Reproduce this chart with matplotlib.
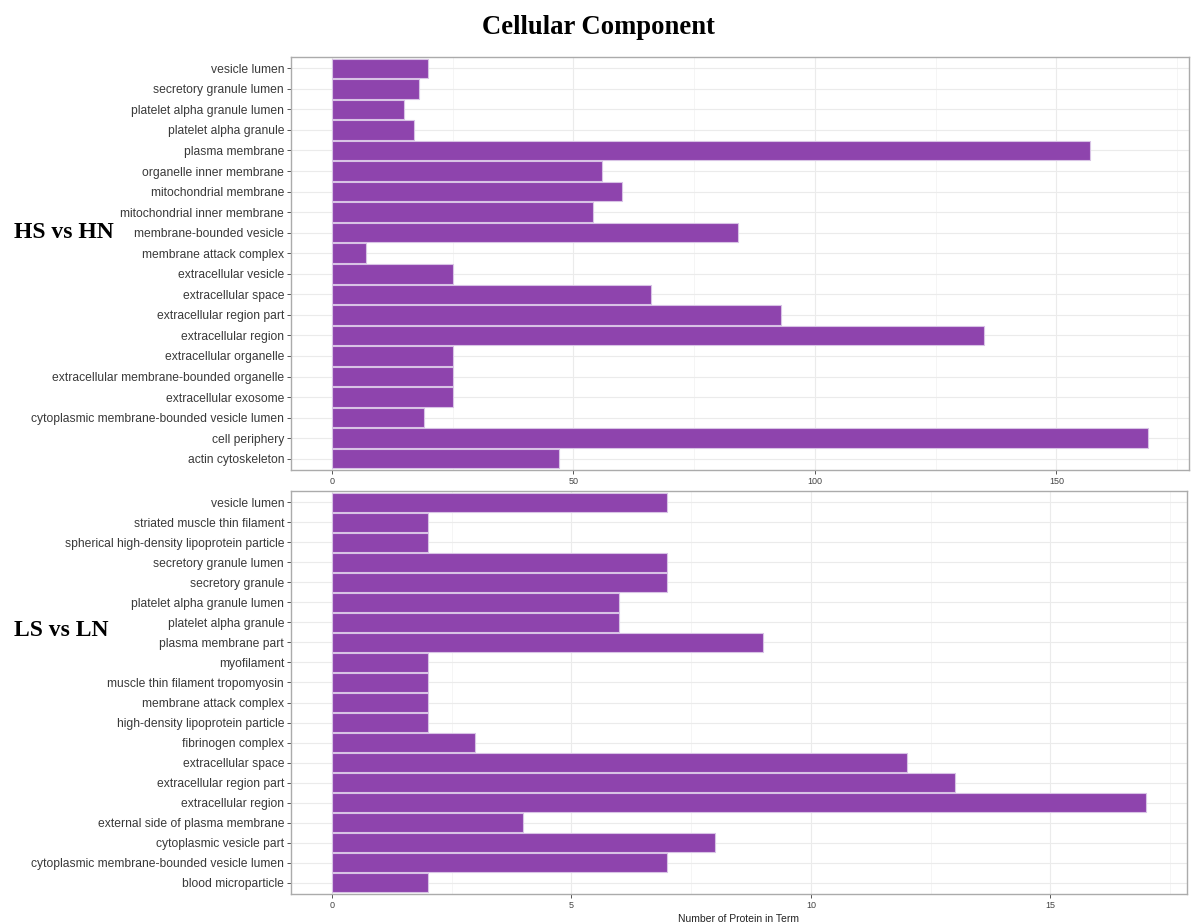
import matplotlib
matplotlib.use("Agg")
import matplotlib.pyplot as plt
from matplotlib.ticker import MultipleLocator

# ---- data (listed top to bottom as displayed) ----
hs_terms = [
    "vesicle lumen", "secretory granule lumen", "platelet alpha granule lumen",
    "platelet alpha granule", "plasma membrane", "organelle inner membrane",
    "mitochondrial membrane", "mitochondrial inner membrane", "membrane-bounded vesicle",
    "membrane attack complex", "extracellular vesicle", "extracellular space",
    "extracellular region part", "extracellular region", "extracellular organelle",
    "extracellular membrane-bounded organelle", "extracellular exosome",
    "cytoplasmic membrane-bounded vesicle lumen", "cell periphery", "actin cytoskeleton",
]
hs_counts = [20, 18, 15, 17, 157, 56, 60, 54, 84, 7, 25, 66, 93, 135, 25, 25, 25, 19, 169, 47]

ls_terms = [
    "vesicle lumen", "striated muscle thin filament", "spherical high-density lipoprotein particle",
    "secretory granule lumen", "secretory granule", "platelet alpha granule lumen",
    "platelet alpha granule", "plasma membrane part", "myofilament",
    "muscle thin filament tropomyosin", "membrane attack complex",
    "high-density lipoprotein particle", "fibrinogen complex", "extracellular space",
    "extracellular region part", "extracellular region", "external side of plasma membrane",
    "cytoplasmic vesicle part", "cytoplasmic membrane-bounded vesicle lumen", "blood microparticle",
]
ls_counts = [7, 2, 2, 7, 7, 6, 6, 9, 2, 2, 2, 2, 3, 12, 13, 17, 4, 8, 7, 2]

hs_ticks = [0, 50, 100, 150]
ls_ticks = [0, 5, 10, 15]

title = "Cellular Component"
panel_labels = ["HS vs HN", "LS vs LN"]
xlabel = "Number of Protein in Term"

BAR = "#8E44AD"
EDGE = "#D8C3E5"
GRID = "#EBEBEB"
MINOR = "#F4F4F4"
BORDER = "#ABABAB"

fig = plt.figure(figsize=(11.92, 9.23), dpi=100)
fig.patch.set_facecolor("white")

ax1 = fig.add_axes([291/1192, 1-470/923, (1189-291)/1192, (470-57)/923])
ax2 = fig.add_axes([291/1192, 1-894/923, (1187-291)/1192, (894-491)/923])


def draw(ax, terms, counts, ticks, minor_step):
    n = len(terms)
    ypos = list(range(n))[::-1]
    ax.barh(ypos, counts, height=0.95, color=BAR, edgecolor=EDGE, linewidth=0.8, zorder=3)
    ax.set_yticks(ypos)
    ax.set_yticklabels(terms, fontsize=8.7, color="#3A3A3A", family="Liberation Sans")
    ax.set_ylim(-0.55, n - 0.45)
    mx = max(counts)
    ax.set_xlim(-0.05 * mx, mx * 1.05)
    ax.set_xticks(ticks)
    ax.set_xticklabels([str(t) for t in ticks], fontsize=6.5, color="#444444",
                       family=["Liberation Sans Narrow", "Liberation Sans"])
    ax.xaxis.set_minor_locator(MultipleLocator(minor_step))
    ax.grid(True, which="major", color=GRID, linewidth=0.8, zorder=0)
    ax.grid(True, which="minor", axis="x", color=MINOR, linewidth=0.6, zorder=0)
    ax.set_axisbelow(True)
    ax.tick_params(axis="both", which="major", length=3, width=0.7, color="#555555", pad=2)
    ax.tick_params(axis="x", which="minor", length=0)
    for s in ax.spines.values():
        s.set_color(BORDER)
        s.set_linewidth(1.0)


draw(ax1, hs_terms, hs_counts, hs_ticks, 25)
draw(ax2, ls_terms, ls_counts, ls_ticks, 2.5)

ax2.set_xlabel(xlabel, fontsize=7.5, color="#222222",
               family=["Liberation Sans Narrow", "Liberation Sans"], labelpad=3)

fig.text(598/1192, 1-28/923, title, ha="center", va="center", fontsize=19.2,
         fontweight="bold", family="Liberation Serif", color="black")
fig.text(14/1192, 1-233/923, panel_labels[0], ha="left", va="center", fontsize=17,
         fontweight="bold", family="Liberation Serif", color="black")
fig.text(14/1192, 1-630/923, panel_labels[1], ha="left", va="center", fontsize=17,
         fontweight="bold", family="Liberation Serif", color="black")

fig.savefig("out.png", dpi=100, facecolor="white")
